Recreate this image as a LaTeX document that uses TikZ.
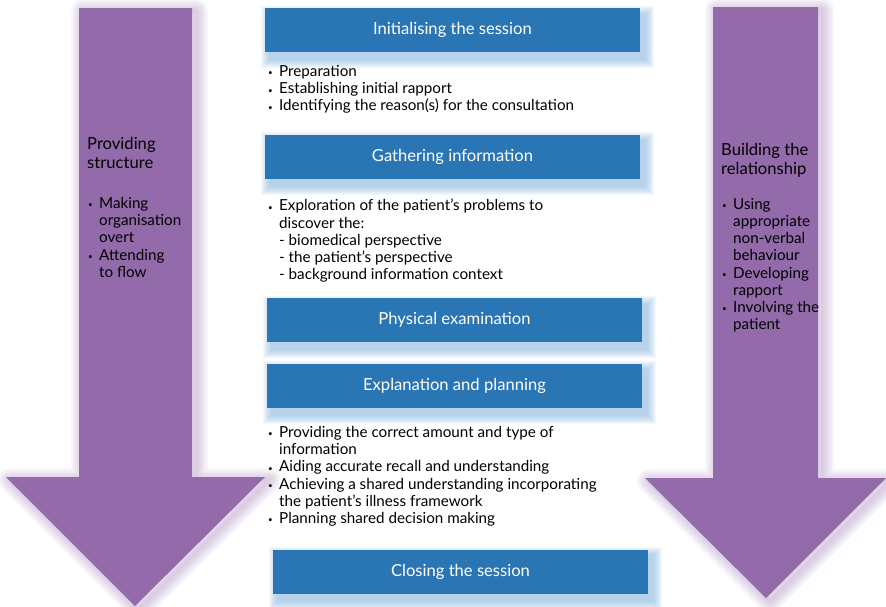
\documentclass[tikz,border=0pt]{standalone}
\usepackage{fontspec}
\setmainfont{Lato}
\usetikzlibrary{positioning,backgrounds}
\definecolor{bleu}{HTML}{2A75B3}
\definecolor{bleuclair}{HTML}{6FA6D6}
\definecolor{mauve}{HTML}{946BAA}
\tikzstyle{etape} = [fill=bleu, text=white, minimum width=375pt, minimum height=44pt, inner sep=0pt, font=\fontsize{16.6}{19}\selectfont]
\tikzstyle{liste} = [align=left, anchor=north west, inner sep=0pt, font=\fontsize{15.2}{17.2}\selectfont]
\tikzstyle{titre} = [align=left, anchor=north west, inner sep=0pt, font=\fontsize{16.6}{19}\selectfont]
\tikzstyle{halo} = [bleuclair, opacity=0.075]
\tikzstyle{ombre} = [mauve, opacity=0.05, line join=round]
\newcommand{\bul}{\makebox[11pt][l]{\raisebox{0.5pt}{\footnotesize\textbullet}}}
\newcommand{\ind}{\hspace*{11pt}}

\begin{document}
\begin{tikzpicture}[x=1pt,y=-1pt]
	\useasboundingbox (0,0) rectangle (886,606);

	% the two big arrows
	\foreach \w in {3,6,...,24}
		\draw[ombre, line width=\w pt] (83,11) -- (196,11) -- (196,480) -- (269,480) -- (139,609) -- (10,480) -- (83,480) -- cycle;
	\fill[mauve] (79,8) -- (192,8) -- (192,477) -- (265,477) -- (135,606) -- (6,477) -- (79,477) -- cycle;

	\foreach \w in {3,6,...,24}
		\draw[ombre, line width=\w pt] (717,10) -- (822,10) -- (822,481) -- (890,481) -- (770,601) -- (649,481) -- (717,481) -- cycle;
	\fill[mauve] (713,7) -- (818,7) -- (818,478) -- (886,478) -- (766,598) -- (645,478) -- (713,478) -- cycle;

	\node[titre] (PS) at (87,137) {Providing\\structure};
	\node[liste] (PSl) at (88,197) {\bul Making\\\ind organisation\\\ind overt\\\bul Attending\\\ind to flow};

	\node[titre] (BR) at (721,143) {Building the\\relationship};
	\node[liste] (BRl) at (722,198) {\bul Using\\\ind appropriate\\\ind non-verbal\\\ind behaviour\\\bul Developing\\\ind rapport\\\bul Involving the\\\ind patient};

	% the steps of the consultation
	\node[etape] (E1) at (452.5,30) {Initialising the session};
	\node[etape] (E2) at (452.5,156.5) {Gathering information};
	\node[etape] (E3) at (454.5,320) {Physical examination};
	\node[etape] (E4) at (454.5,385.5) {Explanation and planning};
	\node[etape] (E5) at (460.5,571.5) {Closing the session};

	\node[liste] (L1) at (268,65) {\bul Preparation\\\bul Establishing initial rapport\\\bul Identifying the reason(s) for the consultation};
	\node[liste] (L2) at (268,199) {\bul Exploration of the patient’s problems to\\\ind discover the:\\\ind - biomedical perspective\\\ind - the patient’s perspective\\\ind - background information context};
	\node[liste] (L4) at (268,426) {\bul Providing the correct amount and type of\\\ind information\\\bul Aiding accurate recall and understanding\\\bul Achieving a shared understanding incorporating\\\ind the patient’s illness framework\\\bul Planning shared decision making};

	\begin{pgfonlayer}{background}
		\foreach \b in {E1,E2,E3,E4,E5}
			\foreach \k in {1,...,9}
				\fill[halo] ([shift={(5-\k,7-\k)}]\b.north west) rectangle ([shift={(5+\k,7+\k)}]\b.south east);
	\end{pgfonlayer}
\end{tikzpicture}
\end{document}
